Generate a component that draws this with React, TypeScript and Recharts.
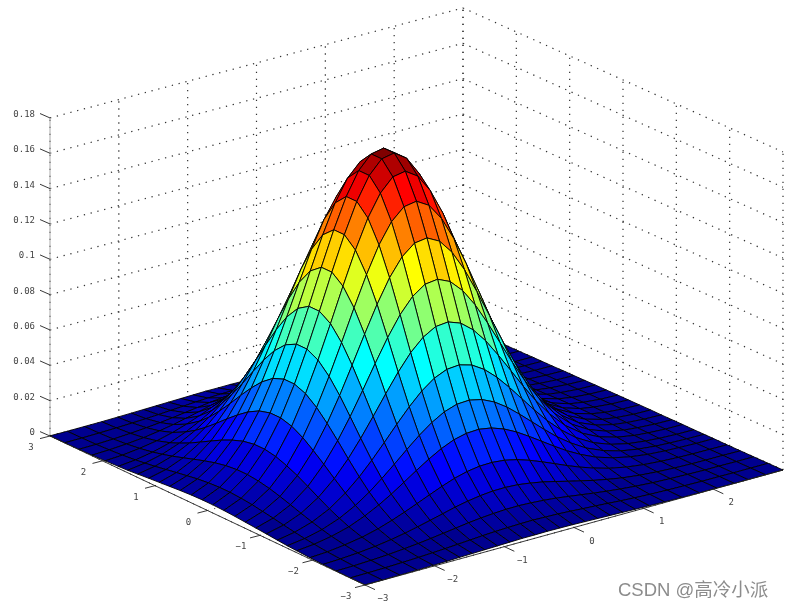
import { ScatterChart, Scatter, XAxis, YAxis } from 'recharts'

const W = 785
const H = 608

// mesh lines are tighter over the hump than near the edges
const aGrid = [-3, -2.72, -2.45, -2.2, -1.95, -1.7, -1.52, -1.33, -1.12, -0.92, -0.72, -0.52, -0.31, -0.1, 0.1, 0.31, 0.52, 0.72, 0.92, 1.12, 1.33, 1.52, 1.7, 1.95, 2.2, 2.45, 2.72, 3]
const bGrid = [-3, -2.75, -2.5, -2.25, -2.02, -1.82, -1.64, -1.46, -1.28, -1.1, -0.92, -0.74, -0.56, -0.38, -0.2, -0.02, 0.16, 0.34, 0.52, 0.7, 0.88, 1.08, 1.3, 1.55, 1.8, 2.05, 2.3, 2.5, 2.75, 3]

// surface height, in units of 0.0001. rows follow aGrid, columns bGrid
const zTable = [
  [1, 1, 2, 3, 5, 7, 9, 11, 13, 15, 17, 19, 19, 20, 19, 18, 16, 14, 12, 10, 8, 6, 4, 2, 1, 1, 0, 0, 0, 0],
  [1, 2, 4, 7, 11, 15, 19, 24, 29, 34, 38, 41, 43, 44, 42, 40, 36, 31, 27, 22, 17, 12, 8, 5, 3, 1, 1, 0, 0, 0],
  [2, 4, 8, 14, 22, 30, 39, 49, 59, 69, 77, 83, 87, 88, 85, 80, 73, 63, 53, 43, 34, 25, 17, 10, 6, 3, 1, 1, 0, 0],
  [4, 8, 15, 25, 39, 54, 70, 87, 105, 123, 138, 149, 156, 157, 153, 143, 130, 113, 95, 78, 61, 45, 30, 18, 10, 5, 2, 1, 1, 0],
  [7, 13, 25, 42, 65, 91, 118, 147, 177, 206, 232, 251, 262, 264, 257, 241, 218, 190, 160, 130, 102, 75, 50, 30, 17, 9, 4, 2, 1, 0],
  [11, 21, 39, 66, 103, 143, 185, 232, 280, 325, 365, 396, 413, 417, 405, 380, 344, 300, 253, 206, 161, 118, 79, 48, 27, 14, 7, 4, 1, 1],
  [14, 28, 52, 89, 137, 191, 248, 310, 374, 435, 488, 529, 553, 557, 541, 508, 460, 401, 338, 275, 215, 158, 106, 64, 36, 19, 9, 5, 2, 1],
  [19, 37, 68, 116, 180, 251, 325, 406, 490, 570, 640, 693, 724, 730, 710, 666, 603, 526, 443, 360, 282, 207, 139, 83, 47, 24, 12, 6, 2, 1],
  [25, 48, 88, 151, 233, 324, 420, 525, 633, 737, 828, 896, 937, 944, 918, 861, 780, 680, 574, 466, 365, 268, 180, 108, 60, 32, 15, 8, 3, 2],
  [30, 59, 108, 185, 286, 398, 515, 644, 777, 904, 1015, 1099, 1149, 1158, 1126, 1056, 956, 834, 703, 571, 448, 328, 221, 132, 74, 39, 18, 10, 4, 2],
  [35, 69, 127, 218, 336, 468, 607, 759, 915, 1065, 1196, 1295, 1354, 1364, 1327, 1245, 1127, 983, 829, 673, 528, 387, 260, 156, 87, 46, 22, 12, 5, 2],
  [40, 79, 144, 246, 381, 530, 687, 859, 1036, 1205, 1354, 1466, 1532, 1544, 1502, 1409, 1275, 1113, 938, 762, 597, 438, 294, 176, 99, 52, 24, 13, 5, 3],
  [44, 86, 157, 269, 416, 579, 750, 937, 1130, 1315, 1477, 1599, 1672, 1685, 1638, 1537, 1392, 1214, 1024, 831, 652, 477, 321, 193, 108, 56, 27, 14, 6, 3],
  [46, 90, 164, 281, 434, 604, 783, 978, 1180, 1373, 1542, 1670, 1745, 1759, 1710, 1605, 1453, 1268, 1069, 868, 681, 498, 335, 201, 112, 59, 28, 15, 6, 3],
  [46, 90, 164, 281, 434, 604, 783, 978, 1180, 1373, 1542, 1670, 1745, 1759, 1710, 1605, 1453, 1268, 1069, 868, 681, 498, 335, 201, 112, 59, 28, 15, 6, 3],
  [44, 86, 157, 269, 416, 579, 750, 937, 1130, 1315, 1477, 1599, 1672, 1685, 1638, 1537, 1392, 1214, 1024, 831, 652, 477, 321, 193, 108, 56, 27, 14, 6, 3],
  [40, 79, 144, 246, 381, 530, 687, 859, 1036, 1205, 1354, 1466, 1532, 1544, 1502, 1409, 1275, 1113, 938, 762, 597, 438, 294, 176, 99, 52, 24, 13, 5, 3],
  [35, 69, 127, 218, 336, 468, 607, 759, 915, 1065, 1196, 1295, 1354, 1364, 1327, 1245, 1127, 983, 829, 673, 528, 387, 260, 156, 87, 46, 22, 12, 5, 2],
  [30, 59, 108, 185, 286, 398, 515, 644, 777, 904, 1015, 1099, 1149, 1158, 1126, 1056, 956, 834, 703, 571, 448, 328, 221, 132, 74, 39, 18, 10, 4, 2],
  [25, 48, 88, 151, 233, 324, 420, 525, 633, 737, 828, 896, 937, 944, 918, 861, 780, 680, 574, 466, 365, 268, 180, 108, 60, 32, 15, 8, 3, 2],
  [19, 37, 68, 116, 180, 251, 325, 406, 490, 570, 640, 693, 724, 730, 710, 666, 603, 526, 443, 360, 282, 207, 139, 83, 47, 24, 12, 6, 2, 1],
  [14, 28, 52, 89, 137, 191, 248, 310, 374, 435, 488, 529, 553, 557, 541, 508, 460, 401, 338, 275, 215, 158, 106, 64, 36, 19, 9, 5, 2, 1],
  [11, 21, 39, 66, 103, 143, 185, 232, 280, 325, 365, 396, 413, 417, 405, 380, 344, 300, 253, 206, 161, 118, 79, 48, 27, 14, 7, 4, 1, 1],
  [7, 13, 25, 42, 65, 91, 118, 147, 177, 206, 232, 251, 262, 264, 257, 241, 218, 190, 160, 130, 102, 75, 50, 30, 17, 9, 4, 2, 1, 0],
  [4, 8, 15, 25, 39, 54, 70, 87, 105, 123, 138, 149, 156, 157, 153, 143, 130, 113, 95, 78, 61, 45, 30, 18, 10, 5, 2, 1, 1, 0],
  [2, 4, 8, 14, 22, 30, 39, 49, 59, 69, 77, 83, 87, 88, 85, 80, 73, 63, 53, 43, 34, 25, 17, 10, 6, 3, 1, 1, 0, 0],
  [1, 2, 4, 7, 11, 15, 19, 24, 29, 34, 38, 41, 43, 44, 42, 40, 36, 31, 27, 22, 17, 12, 8, 5, 3, 1, 1, 0, 0, 0],
  [1, 1, 2, 3, 5, 7, 9, 11, 13, 15, 17, 19, 19, 20, 19, 18, 16, 14, 12, 10, 8, 6, 4, 2, 1, 1, 0, 0, 0, 0],
]

const aTicks = [3, 2, 1, 0, -1, -2, -3]
const bTicks = [-3, -2, -1, 0, 1, 2]
const gridTicks = [-3, -2, -1, 0, 1, 2, 3]
const zTicks = [0, 0.02, 0.04, 0.06, 0.08, 0.1, 0.12, 0.14, 0.16, 0.18]
const zMax = 0.18

// screen corners of the floor: left, front, right, back
const cornerL = [50, 436]
const cornerF = [365, 585]
const cornerR = [783, 470]
const cornerB = [463, 326]
const zPx = 1767

interface Pt { x: number; y: number; label?: string }

function project(a: number, b: number, z: number): Pt {
  const u = (3 - a) / 6
  const v = (b + 3) / 6
  const mix = (k: number) =>
    (1 - u) * (1 - v) * cornerL[k] + u * (1 - v) * cornerF[k] + u * v * cornerR[k] + (1 - u) * v * cornerB[k]
  return { x: mix(0), y: mix(1) - z * zPx }
}

function jet(z: number, top: number) {
  const idx = Math.min(63, Math.floor((z / top) * 64))
  const t = (idx + 1) / 64
  const c = (v: number) => Math.round(Math.max(0, Math.min(1, v)) * 255)
  const r = c(Math.min(4 * t - 1.5, -4 * t + 4.5))
  const g = c(Math.min(4 * t - 0.5, -4 * t + 3.5))
  const bl = c(Math.min(4 * t + 0.5, -4 * t + 2.5))
  return `rgb(${r},${g},${bl})`
}

// facets back to front, four points each
const facetPoints: Pt[] = []
const facetColors: string[] = []
const zTop = Math.max(...zTable.flat())
for (let i = aGrid.length - 2; i >= 0; i--) {
  for (let j = bGrid.length - 2; j >= 0; j--) {
    const z = (p: number, q: number) => zTable[p][q] / 10000
    facetPoints.push(
      project(aGrid[i], bGrid[j], z(i, j)),
      project(aGrid[i + 1], bGrid[j], z(i + 1, j)),
      project(aGrid[i + 1], bGrid[j + 1], z(i + 1, j + 1)),
      project(aGrid[i], bGrid[j + 1], z(i, j + 1)),
    )
    facetColors.push(jet(zTable[i][j], zTop))
  }
}

const wallLines: Pt[] = []
zTicks.forEach((z) => {
  wallLines.push(project(3, -3, z), project(3, 3, z), project(3, 3, z), project(-3, 3, z))
})
gridTicks.forEach((t) => {
  wallLines.push(project(3, t, 0), project(3, t, zMax), project(t, 3, 0), project(t, 3, zMax))
})

const floorLines: Pt[] = []
gridTicks.forEach((t) => {
  floorLines.push(project(t, -3, 0), project(t, 3, 0), project(-3, t, 0), project(3, t, 0))
})

const zAxisLine: Pt[] = [project(3, -3, 0), project(3, -3, zMax)]

const offset = (p: Pt, dx: number, dy: number): Pt => ({ x: p.x + dx, y: p.y + dy })

const axisLines: Pt[] = [project(3, -3, 0), project(-3, -3, 0), project(-3, -3, 0), project(-3, 3, 0)]
aTicks.forEach((a) => {
  const p = project(a, -3, 0)
  axisLines.push(p, offset(p, -10, 2.6))
})
bTicks.forEach((b) => {
  const p = project(-3, b, 0)
  axisLines.push(p, offset(p, 10, 4.6))
})
zTicks.forEach((z) => {
  const p = project(3, -3, z)
  axisLines.push(p, offset(p, -10, -4.4))
})

const fmtTick = (v: number) => (v < 0 ? `\u2212${-v}` : `${v}`)
const aLabels = aTicks.map((a) => ({ ...offset(project(a, -3, 0), -19, 11), label: fmtTick(a) }))
const bLabels = bTicks.map((b) => ({ ...offset(project(-3, b, 0), 18, 13), label: fmtTick(b) }))
const zLabels = zTicks.map((z) => ({ ...offset(project(3, -3, z), -15, -4), label: `${z}` }))
const watermark = [{ x: 618, y: 596, label: 'CSDN @高冷小派' }]

const noDot = () => <g />

function segments(stroke: string, width: number, dash?: string) {
  return (props: any) => {
    const pts = props.points
    const out = []
    for (let i = 0; i + 1 < pts.length; i += 2) {
      out.push(
        <line
          key={i}
          x1={pts[i].x}
          y1={pts[i].y}
          x2={pts[i + 1].x}
          y2={pts[i + 1].y}
          stroke={stroke}
          strokeWidth={width}
          strokeDasharray={dash}
        />,
      )
    }
    return <g>{out}</g>
  }
}

function facets(props: any) {
  const pts = props.points
  const out = []
  for (let i = 0; i + 3 < pts.length; i += 4) {
    const d = [0, 1, 2, 3].map((k) => `${pts[i + k].x},${pts[i + k].y}`).join(' ')
    out.push(<polygon key={i} points={d} fill={facetColors[i / 4]} stroke="#000" strokeWidth={0.9} strokeLinejoin="round" />)
  }
  return <g>{out}</g>
}

function tickText(anchor: 'middle' | 'end') {
  return (props: any) => (
    <text
      x={props.cx}
      y={props.cy}
      textAnchor={anchor}
      dominantBaseline="central"
      fontFamily="'DejaVu Sans Mono', monospace"
      fontSize={9}
      fill="#444"
    >
      {props.payload.label}
    </text>
  )
}

function markText(props: any) {
  return (
    <text x={props.cx} y={props.cy} fontFamily="'Liberation Sans', 'Noto Sans CJK SC', sans-serif" fontSize={18.5} fill="#8c8c8c">
      {props.payload.label}
    </text>
  )
}

export default function App() {
  return (
    <div style={{ position: 'absolute', left: 0, top: 0, width: W, height: H, filter: 'blur(0.35px)' }}>
      <ScatterChart width={W} height={H} margin={{ top: 0, right: 0, bottom: 0, left: 0 }}>
        <XAxis type="number" dataKey="x" domain={[0, W]} hide />
        <YAxis type="number" dataKey="y" domain={[0, H]} reversed hide />
        <Scatter data={wallLines} shape={noDot} line={segments('#333', 1.2, '1.3 5.7')} isAnimationActive={false} />
        <Scatter data={floorLines} shape={noDot} line={segments('#222', 1, '1 6')} isAnimationActive={false} />
        <Scatter data={zAxisLine} shape={noDot} line={segments('#aaa', 1)} isAnimationActive={false} />
        <Scatter data={facetPoints} shape={noDot} line={facets} isAnimationActive={false} />
        <Scatter data={axisLines} shape={noDot} line={segments('#222', 0.9)} isAnimationActive={false} />
        <Scatter data={aLabels} shape={tickText('middle')} isAnimationActive={false} />
        <Scatter data={bLabels} shape={tickText('middle')} isAnimationActive={false} />
        <Scatter data={zLabels} shape={tickText('end')} isAnimationActive={false} />
        <Scatter data={watermark} shape={markText} isAnimationActive={false} />
      </ScatterChart>
    </div>
  )
}
